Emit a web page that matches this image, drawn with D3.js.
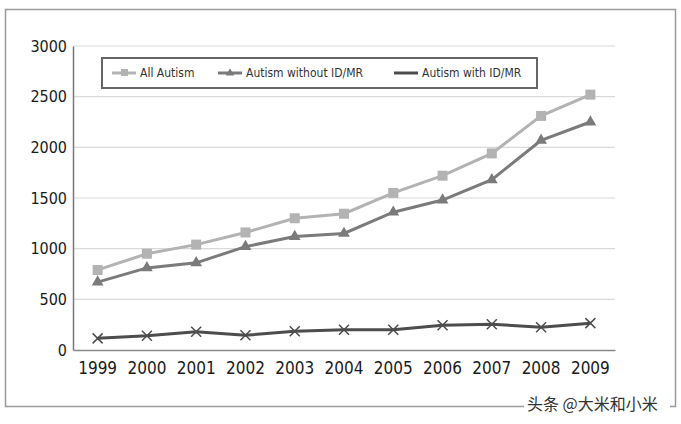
<!DOCTYPE html>
<html>
<head>
<meta charset="utf-8">
<script src="https://cdn.jsdelivr.net/npm/d3@7"></script>
<style>
  body { margin: 0; background: #fff; }
  svg text { font-family: "Liberation Sans Narrow", "DejaVu Sans Condensed", "Liberation Sans", sans-serif; }
</style>
</head>
<body>
<div id="chart"></div>
<script>
const years = ['1999', '2000', '2001', '2002', '2003', '2004', '2005', '2006', '2007', '2008', '2009'];
const allAutism = [790, 950, 1040, 1160, 1300, 1345, 1550, 1720, 1940, 2310, 2520];
const withoutIdMr = [670, 810, 860, 1020, 1120, 1150, 1360, 1480, 1680, 2070, 2250];
const withIdMr = [115, 140, 180, 145, 185, 200, 200, 245, 255, 225, 265];
const yTicks = [0, 500, 1000, 1500, 2000, 2500, 3000];

const W = 681, H = 424;
const M = { left: 73, right: 615, top: 46, bottom: 350 };

const series = [
  { name: 'All Autism', values: allAutism, color: '#b3b3b3', shape: 'square' },
  { name: 'Autism without ID/MR', values: withoutIdMr, color: '#7b7b7b', shape: 'triangle' },
  { name: 'Autism with ID/MR', values: withIdMr, color: '#4d4d4d', shape: 'cross' },
];

const svg = d3.select('#chart').append('svg').attr('width', W).attr('height', H);

// outer frame
svg.append('rect')
  .attr('x', 5.5).attr('y', 9.5).attr('width', 670).attr('height', 397)
  .attr('fill', '#fff').attr('stroke', '#9a9a9a').attr('stroke-width', 1.5);

const x = d3.scaleBand().domain(years).range([M.left, M.right]);
const y = d3.scaleLinear().domain([0, 3000]).range([M.bottom, M.top]);
const cx = (d) => x(d) + x.bandwidth() / 2;

// grid
svg.append('g')
  .selectAll('line')
  .data(yTicks.filter((t) => t > 0))
  .join('line')
  .attr('x1', M.left).attr('x2', M.right)
  .attr('y1', (d) => y(d)).attr('y2', (d) => y(d))
  .attr('stroke', '#d9d9d9').attr('stroke-width', 1.2);

// y axis
const yAxis = svg.append('g')
  .attr('transform', `translate(${M.left},0)`)
  .call(d3.axisLeft(y).tickValues(yTicks).tickFormat(d3.format('d')).tickSize(0).tickPadding(6));
yAxis.select('.domain').attr('stroke', '#777').attr('stroke-width', 1.5);
yAxis.selectAll('text').style('font-size', '16px').style('fill', '#1a1a1a');

// x axis
const xAxis = svg.append('g')
  .attr('transform', `translate(0,${M.bottom})`)
  .call(d3.axisBottom(x).tickSize(0).tickPadding(12));
xAxis.select('.domain').attr('stroke', '#888').attr('stroke-width', 1.5);
xAxis.selectAll('text').style('font-size', '17px').style('fill', '#1a1a1a');

const line = d3.line().x((d, i) => cx(years[i])).y((d) => y(d));

const drawMarker = (g, shape, color, px, py) => {
  if (shape === 'square') {
    g.append('rect').attr('x', px - 5).attr('y', py - 5).attr('width', 10).attr('height', 10).attr('fill', color);
  } else if (shape === 'triangle') {
    g.append('path').attr('d', d3.symbol(d3.symbolTriangle, 60)()).attr('transform', `translate(${px},${py})`).attr('fill', color);
  } else {
    g.append('path')
      .attr('d', `M${px - 5},${py - 5}L${px + 5},${py + 5}M${px - 5},${py + 5}L${px + 5},${py - 5}`)
      .attr('stroke', color).attr('stroke-width', 1.5);
  }
};

series.forEach((s) => {
  const g = svg.append('g');
  g.append('path')
    .datum(s.values)
    .attr('d', line)
    .attr('fill', 'none')
    .attr('stroke', s.color)
    .attr('stroke-width', 3);
  s.values.forEach((v, i) => drawMarker(g, s.shape, s.color, cx(years[i]), y(v)));
});

// legend
const lg = svg.append('g');
lg.append('rect')
  .attr('x', 102).attr('y', 58).attr('width', 435).attr('height', 30)
  .attr('fill', '#fff').attr('stroke', '#666').attr('stroke-width', 2);
const legendX = [112, 218, 394];
series.forEach((s, i) => {
  const lx = legendX[i], ly = 73;
  lg.append('line').attr('x1', lx).attr('x2', lx + 24).attr('y1', ly).attr('y2', ly)
    .attr('stroke', s.color).attr('stroke-width', 3);
  if (s.shape === 'square') {
    lg.append('rect').attr('x', lx + 9).attr('y', ly - 4).attr('width', 7).attr('height', 7).attr('fill', s.color);
  } else if (s.shape === 'triangle') {
    lg.append('path').attr('d', d3.symbol(d3.symbolTriangle, 30)()).attr('transform', `translate(${lx + 12},${ly})`).attr('fill', s.color);
  }
  lg.append('text').attr('x', lx + 28).attr('y', ly + 4)
    .style('font-size', '12px').style('fill', '#333').text(s.name);
});

// watermark
svg.append('rect').attr('x', 524).attr('y', 392).attr('width', 146).attr('height', 22).attr('fill', '#fff');
svg.append('text')
  .attr('x', 527).attr('y', 410)
  .style('font-family', '"Noto Sans CJK SC", sans-serif')
  .style('font-size', '16px')
  .style('fill', '#333')
  .text('头条 @大米和小米');
</script>
</body>
</html>
